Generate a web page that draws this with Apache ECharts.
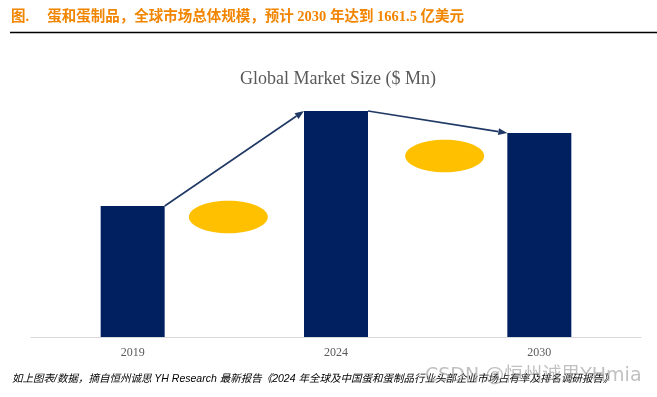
<!DOCTYPE html>
<html lang="zh">
<head>
  <meta charset="UTF-8">
  <title>蛋和蛋制品 全球市场总体规模</title>
  <script src="https://cdn.jsdelivr.net/npm/echarts@6/dist/echarts.min.js"></script>
  <style>
    html, body { margin: 0; padding: 0; background: #fff; }
  </style>
</head>
<body>
<div id="main" style="width: 657px;height:397px;"></div>
<script type="text/javascript">
  // 数据（$ Mn）
  var years = ['2019', '2024', '2030'];
  var marketSize = [106700, 184100, 166150];

  var barColor = '#002060';
  var arrowColor = '#1F3864';
  var barW = 64;

  var myChart = echarts.init(document.getElementById('main'));

  myChart.setOption({
    animation: false,
    backgroundColor: '#fff',
    title: {
      text: 'Global Market Size ($ Mn)',
      left: 333,
      top: 65,
      textAlign: 'center',
      textStyle: {
        fontFamily: 'Liberation Serif',
        fontWeight: 'normal',
        fontSize: 18,
        color: '#595959'
      }
    },
    grid: { left: 31, right: 16, top: 91.44, bottom: 60 },
    xAxis: {
      type: 'category',
      data: years,
      axisLine: { lineStyle: { color: '#D9D9D9', width: 1 } },
      axisTick: { show: false },
      axisLabel: {
        margin: 10,
        fontFamily: 'Liberation Serif',
        fontSize: 12,
        color: '#595959'
      }
    },
    yAxis: {
      type: 'value',
      min: 0,
      max: 200000,
      show: false,
      splitLine: { show: false }
    },
    series: [{
      type: 'bar',
      data: marketSize,
      barWidth: barW,
      itemStyle: { color: barColor }
    }]
  });

  // 箭头与椭圆，根据柱子位置计算
  var tops = marketSize.map(function (v, i) {
    return myChart.convertToPixel({ seriesIndex: 0 }, [i, v]);
  });

  function arrow(x1, y1, x2, y2) {
    var ang = Math.atan2(y2 - y1, x2 - x1);
    var len = 9, half = 3.5;
    var bx = x2 - len * Math.cos(ang), by = y2 - len * Math.sin(ang);
    var nx = -Math.sin(ang) * half, ny = Math.cos(ang) * half;
    return [{
      type: 'line',
      shape: { x1: x1, y1: y1, x2: bx, y2: by },
      style: { stroke: arrowColor, lineWidth: 1.6 }
    }, {
      type: 'polygon',
      shape: { points: [[x2, y2], [bx + nx, by + ny], [bx - nx, by - ny]] },
      style: { fill: arrowColor }
    }];
  }

  var g = [];
  for (var i = 0; i < tops.length - 1; i++) {
    var a = tops[i], b = tops[i + 1];
    g = g.concat(arrow(a[0] + barW / 2, a[1], b[0] - barW / 2, b[1]));
  }

  var mid1 = (tops[0][0] + tops[1][0]) / 2;
  var mid2 = (tops[1][0] + tops[2][0]) / 2;
  g.push({
    type: 'ellipse',
    shape: { cx: mid1 - 6, cy: tops[0][1] + 11, rx: 39.5, ry: 16.3 },
    style: { fill: '#FFC000' }
  });
  g.push({
    type: 'ellipse',
    shape: { cx: mid2 + 7, cy: tops[2][1] + 23, rx: 39.5, ry: 16.3 },
    style: { fill: '#FFC000' }
  });

  // 标题、分隔线、来源说明、水印
  g.push({
    type: 'text',
    left: 11, top: 10,
    style: {
      text: '图.     蛋和蛋制品，全球市场总体规模，预计 2030 年达到 1661.5 亿美元',
      fill: '#F28500',
      font: 'bold 14.5px "Liberation Serif", "Noto Sans CJK SC"'
    }
  });
  g.push({
    type: 'line',
    shape: { x1: 10, y1: 32.5, x2: 657, y2: 32.5 },
    style: { stroke: '#000', lineWidth: 1.5 }
  });
  g.push({
    type: 'text',
    left: 12, top: 374,
    style: {
      text: '如上图表/数据，摘自恒州诚思 YH Research 最新报告《2024 年全球及中国蛋和蛋制品行业头部企业市场占有率及排名调研报告》',
      fill: '#000',
      font: 'italic 10.5px "Liberation Sans", "Noto Sans CJK SC"'
    }
  });
  g.push({
    type: 'text',
    left: 425, top: 367,
    z: 100,
    style: {
      text: 'CSDN @恒州诚思YHmia',
      fill: 'rgba(140,140,140,0.55)',
      font: '19px "DejaVu Sans", "Noto Sans CJK SC"'
    }
  });

  myChart.setOption({ graphic: g });
</script>
</body>
</html>
